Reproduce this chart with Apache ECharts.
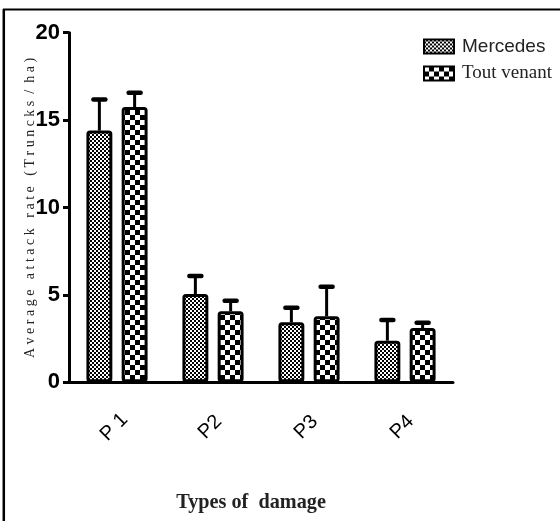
<!DOCTYPE html>
<html>
<head>
<meta charset="utf-8">
<script src="https://cdn.jsdelivr.net/npm/echarts@6/dist/echarts.min.js"></script>
<style>
html,body{margin:0;padding:0;background:#fff;}
#chart{width:560px;height:521px;}
</style>
</head>
<body>
<div id="chart"></div>
<script>
const categories = ['P 1', 'P2', 'P3', 'P4'];
const seriesNames = ['Mercedes', 'Tout venant'];
const mercedesMean = [14.4, 5.05, 3.43, 2.38];
const mercedesErr = [1.78, 1.03, 0.84, 1.18];
const toutVenantMean = [15.75, 4.06, 3.78, 3.1];
const toutVenantErr = [0.82, 0.6, 1.68, 0.3];
const yTicks = [0, 5, 10, 15, 20];
const yAxisTitle = 'A v e r a g e   a t t a c k   r a t e   ( T r u n c k s  /  h a )';
const xAxisTitle = 'Types of  damage';

function checker(cell) {
  const c = document.createElement('canvas');
  c.width = cell * 2; c.height = cell * 2;
  const ctx = c.getContext('2d');
  ctx.fillStyle = '#000'; ctx.fillRect(0, 0, c.width, c.height);
  ctx.fillStyle = '#fff';
  ctx.fillRect(0, 0, cell, cell);
  ctx.fillRect(cell, cell, cell, cell);
  return c;
}
const patM = { image: checker(2), repeat: 'repeat' };
const patT = { image: checker(5), repeat: 'repeat' };

const BAR_FRAC = 0.27, GAP_FRAC = 0.36;

function errSeries(means, errs, side) {
  return {
    type: 'custom',
    z: 3,
    silent: true,
    data: means.map((m, i) => [i, m, m + errs[i]]),
    renderItem: function (params, api) {
      const i = api.value(0);
      const band = api.size([1, 0])[0];
      const bw = band * BAR_FRAC;
      const off = side * (bw + bw * GAP_FRAC) / 2;
      const p0 = api.coord([i, api.value(1)]);
      const p1 = api.coord([i, api.value(2)]);
      const x = p0[0] + off;
      return {
        type: 'group',
        children: [
          { type: 'line', shape: { x1: x, y1: p0[1], x2: x, y2: p1[1] }, style: { stroke: '#000', lineWidth: 3 } },
          { type: 'line', shape: { x1: x - 6, y1: p1[1], x2: x + 6, y2: p1[1] }, style: { stroke: '#000', lineWidth: 4.5, lineCap: 'round' } }
        ]
      };
    }
  };
}

const chart = echarts.init(document.getElementById('chart'), null, { renderer: 'canvas' });
chart.setOption({
  animation: false,
  backgroundColor: '#fff',
  grid: { left: 69, right: 107, top: 32.7, bottom: 138.7, containLabel: false },
  legend: {
    orient: 'vertical',
    left: 418, top: 32,
    itemWidth: 30, itemHeight: 14, itemGap: 8,
    icon: 'rect',
    data: seriesNames,
    formatter: function (n) { return n === 'Mercedes' ? '{a|' + n + '}' : '{b|' + n + '}'; },
    textStyle: {
      rich: {
        a: { fontFamily: 'Liberation Sans', fontSize: 19, color: '#222', padding: [0, 0, 0, 3] },
        b: { fontFamily: 'Liberation Serif', fontSize: 19, color: '#222', padding: [0, 0, 0, 3] }
      }
    }
  },
  xAxis: {
    type: 'category',
    data: categories,
    axisLine: { lineStyle: { color: '#000', width: 3 } },
    axisTick: { alignWithLabel: true, length: 10, lineStyle: { color: '#000', width: 2 } },
    axisLabel: { rotate: 45, margin: 42, align: 'center', verticalAlign: 'middle',
      padding: [0, 8, 0, 0],
      fontFamily: 'Liberation Sans', fontSize: 20, color: '#000' }
  },
  yAxis: {
    type: 'value', min: 0, max: 20, interval: 5,
    axisLine: { show: true, lineStyle: { color: '#000', width: 3 } },
    axisTick: { show: true, length: 6, lineStyle: { color: '#000', width: 3 } },
    splitLine: { show: false },
    axisLabel: { margin: 9, fontFamily: 'Liberation Sans', fontWeight: 'bold', fontSize: 22, color: '#000',
      formatter: function (v) { return yTicks.indexOf(v) >= 0 ? String(v) : ''; } }
  },
  series: [
    { name: seriesNames[0], type: 'bar', data: mercedesMean, barWidth: '27%', barGap: '36%',
      itemStyle: { color: patM, borderColor: '#000', borderWidth: 3, borderRadius: 2 } },
    { name: seriesNames[1], type: 'bar', data: toutVenantMean, barWidth: '27%', barGap: '36%',
      itemStyle: { color: patT, borderColor: '#000', borderWidth: 3, borderRadius: 2 } },
    errSeries(mercedesMean, mercedesErr, -1),
    errSeries(toutVenantMean, toutVenantErr, 1)
  ],
  graphic: [
    { type: 'line', shape: { x1: 3, y1: 9.5, x2: 560, y2: 9.5 }, style: { stroke: '#000', lineWidth: 2 } },
    { type: 'line', shape: { x1: 3.8, y1: 9, x2: 3.8, y2: 521 }, style: { stroke: '#000', lineWidth: 2.5 } },
    { type: 'text', x: 30, y: 208, rotation: Math.PI / 2,
      style: { text: yAxisTitle, textAlign: 'center', textVerticalAlign: 'middle',
        font: '14px "Liberation Serif"', fill: '#222' } },
    { type: 'text', x: 251, y: 502, scaleX: 0.92,
      style: { text: xAxisTitle, textAlign: 'center', textVerticalAlign: 'middle',
        font: 'bold 22px "Liberation Serif"', fill: '#222' } }
  ]
});
</script>
</body>
</html>
